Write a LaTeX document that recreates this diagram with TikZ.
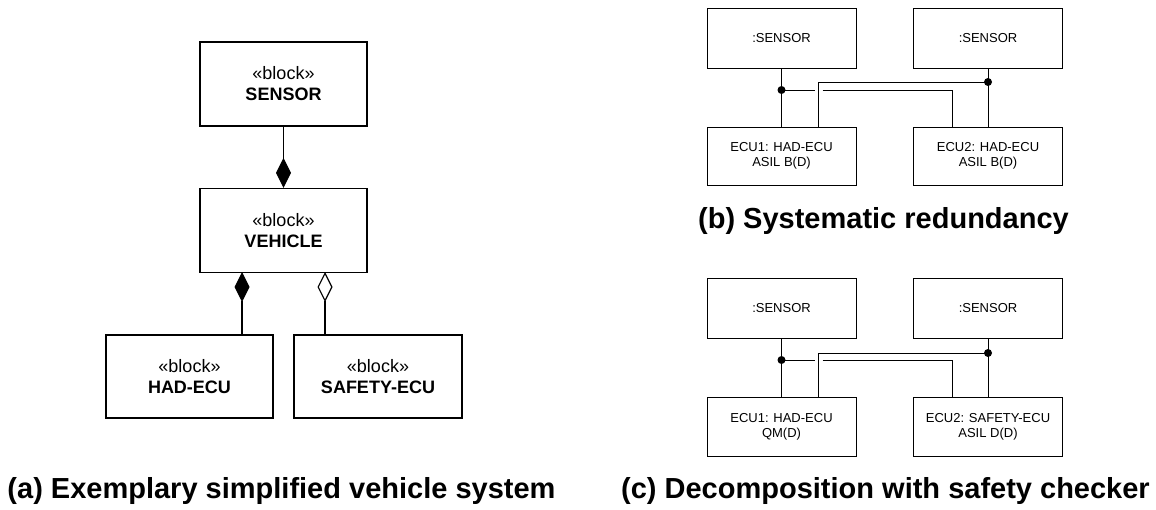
\documentclass[tikz,border=0pt]{standalone}
\usepackage{fontspec}
\setmainfont{Liberation Sans}
\usetikzlibrary{positioning,calc,arrows.meta}

\begin{document}
\begin{tikzpicture}[
      x=1pt, y=-1pt,
      block/.style={rectangle, draw, line width=1.2pt, align=center, minimum width=167pt, minimum height=84pt, font=\fontsize{18}{21}\selectfont},
      part/.style={rectangle, draw, line width=0.8pt, align=center, minimum width=149pt, minimum height=60pt, font=\fontsize{13}{15}\selectfont},
      wire/.style={line width=0.8pt},
      joint/.style={circle, fill, inner sep=0pt, minimum size=8pt},
      comp/.style={line width=1.2pt, -{Diamond[width=15pt, length=30pt]}},
      aggr/.style={line width=1.2pt, -{Diamond[open, fill=white, width=15pt, length=30pt]}},
      caption/.style={anchor=base, font=\fontsize{29}{34}\selectfont\bfseries}
  ]
      \useasboundingbox (0,0) rectangle (1156,509);

      % (a) block definition
      \node (sensor) [block] at (283.5,84) {«block»\\\textbf{SENSOR}};
      \node (vehicle) [block] at (283.5,230.5) {«block»\\\textbf{VEHICLE}};
      \node (hadecu) [block, minimum height=83pt] at (189.5,376.5) {«block»\\\textbf{HAD-ECU}};
      \node (safetyecu) [block, minimum width=168pt, minimum height=83pt] at (378,376.5) {«block»\\\textbf{SAFETY-ECU}};
      \coordinate (hadtop) at (242,335);
      \coordinate (hadbot) at (242,272);
      \coordinate (saftop) at (325,335);
      \coordinate (safbot) at (325,272);

      \draw[comp] (sensor) -- (vehicle);
      \draw[comp] (hadtop) -- (hadbot);
      \draw[aggr] (saftop) -- (safbot);
      \node[caption] (capa) at (281.5,498) {(a) Exemplary simplified vehicle system};

      % (b) systematic redundancy
      \node (bsensA) [part] at (781.5,38) {:SENSOR};
      \node (bsensB) [part] at (988,38) {:SENSOR};
      \node (becuA) [part, minimum height=58pt] at (781.5,156) {ECU1: HAD-ECU\\ASIL B(D)};
      \node (becuB) [part, minimum height=58pt] at (988,156) {ECU2: HAD-ECU\\ASIL B(D)};
      \coordinate (bjA) at (781.5,90);
      \coordinate (bjB) at (988,82);
      \coordinate (bgapA) at (814.5,90);
      \coordinate (bgapB) at (822.5,90);
      \coordinate (bturnA) at (818,82);
      \coordinate (bturnB) at (952,90);

      \draw[wire] (bsensA) -- (becuA);
      \draw[wire] (bsensB) -- (becuB);
      \draw[wire] (bjA) -- (bgapA);
      \draw[wire] (bgapB) -- (bturnB) -- (bturnB |- becuB.north);
      \draw[wire] (bjB) -- (bturnA) -- (bturnA |- becuA.north);
      \node[joint] (bdotA) at (bjA) {};
      \node[joint] (bdotB) at (bjB) {};
      \node[caption] (capb) at (883.5,228) {(b) Systematic redundancy};

      % (c) decomposition with safety checker
      \node (csensA) [part] at (781.5,308) {:SENSOR};
      \node (csensB) [part] at (988,308) {:SENSOR};
      \node (cecuA) [part, minimum height=59pt] at (781.5,426.5) {ECU1: HAD-ECU\\QM(D)};
      \node (cecuB) [part, minimum height=59pt] at (988,426.5) {ECU2: SAFETY-ECU\\ASIL D(D)};
      \coordinate (cjA) at (781.5,360);
      \coordinate (cjB) at (988,353);
      \coordinate (cgapA) at (814.5,360);
      \coordinate (cgapB) at (822.5,360);
      \coordinate (cturnA) at (818,353);
      \coordinate (cturnB) at (952,360);

      \draw[wire] (csensA) -- (cecuA);
      \draw[wire] (csensB) -- (cecuB);
      \draw[wire] (cjA) -- (cgapA);
      \draw[wire] (cgapB) -- (cturnB) -- (cturnB |- cecuB.north);
      \draw[wire] (cjB) -- (cturnA) -- (cturnA |- cecuA.north);
      \node[joint] (cdotA) at (cjA) {};
      \node[joint] (cdotB) at (cjB) {};
      \node[caption] (capc) at (885.5,498) {(c) Decomposition with safety checker};
  \end{tikzpicture}
\end{document}
